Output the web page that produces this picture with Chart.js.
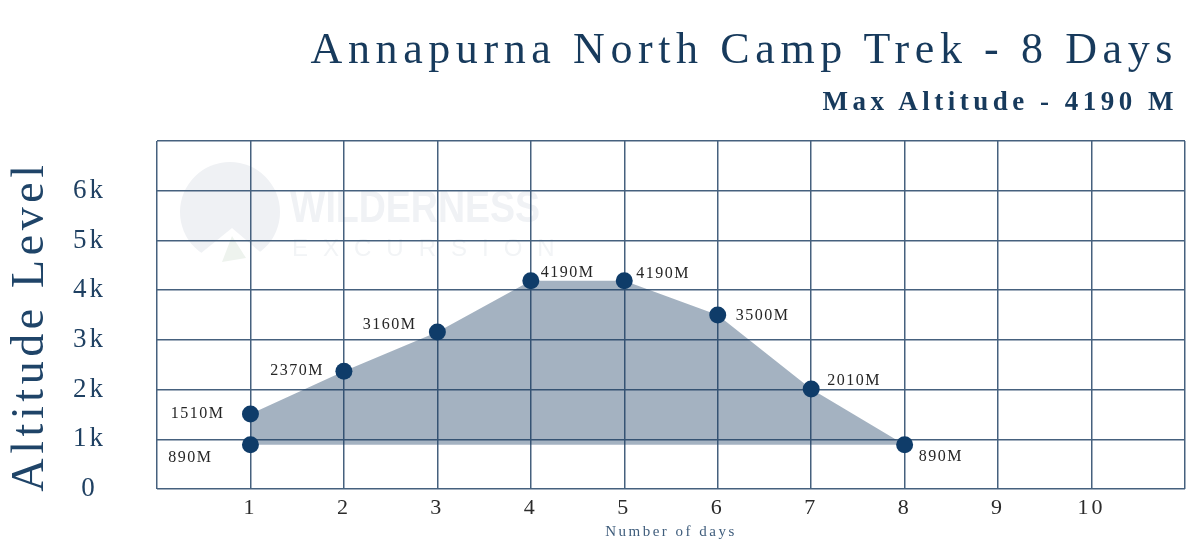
<!DOCTYPE html>
<html>
<head>
<meta charset="utf-8">
<script src="https://cdn.jsdelivr.net/npm/chart.js@4.4.1/dist/chart.umd.min.js"></script>
<style>
  html, body { margin: 0; padding: 0; background: #fff; }
  #wrap { position: relative; width: 1200px; height: 556px; }
  canvas { display: block; }
  #title, #subtitle {
    position: absolute; right: 22px; margin: 0; white-space: nowrap;
    font-family: "Liberation Serif", "DejaVu Serif", serif; color: #173a5c;
  }
  #title { top: 27px; font-size: 44px; letter-spacing: 5.6px; font-weight: normal; line-height: 1; }
  #subtitle { top: 88px; font-size: 27px; letter-spacing: 4.5px; font-weight: bold; line-height: 1; }
</style>
</head>
<body>
<div id="wrap">
  <h1 id="title">Annapurna North Camp Trek - 8 Days</h1>
  <h2 id="subtitle">Max Altitude - 4190 M</h2>
  <canvas id="trekChart" width="1200" height="556"></canvas>
</div>
<script>
// data
const days = [1, 1, 2, 3, 4, 5, 6, 7, 8];
const altitudes = [890, 1510, 2370, 3160, 4190, 4190, 3500, 2010, 890];
const altitudeLabels = altitudes.map(a => a + 'M');
const xTickLabels = ['', '1', '2', '3', '4', '5', '6', '7', '8', '9', '10', ''];
const yTickLabels = ['0', '1k', '2k', '3k', '4k', '5k', '6k', ''];

// where each label sits next to its dot (dx, dy in px)
const labelOffsets = [[-38, 13], [-26, 0], [-20, 0], [-21, -7], [10, -8], [12, -7], [18, 1], [16, -8], [14, 12]];

const serif = '"Liberation Serif", "DejaVu Serif", serif';

const decor = {
  id: 'decor',
  beforeDraw(chart) {
    const ctx = chart.ctx;
    // faint watermark
    ctx.save();
    ctx.fillStyle = '#eff1f4';
    ctx.beginPath();
    ctx.arc(230, 212, 50, 0, Math.PI * 2);
    ctx.fill();
    ctx.fillStyle = '#ffffff';
    ctx.beginPath();
    ctx.moveTo(190, 262); ctx.lineTo(232, 228); ctx.lineTo(272, 262);
    ctx.closePath();
    ctx.fill();
    ctx.fillStyle = '#eef3ee';
    ctx.beginPath();
    ctx.moveTo(222, 262); ctx.lineTo(232, 236); ctx.lineTo(246, 258);
    ctx.closePath();
    ctx.fill();
    ctx.fillStyle = '#f0f2f5';
    ctx.font = 'bold 44px "Liberation Sans", sans-serif';
    ctx.textBaseline = 'alphabetic';
    const w = ctx.measureText('WILDERNESS').width;
    ctx.save();
    ctx.translate(290, 222);
    ctx.scale(250 / w, 1);
    ctx.fillText('WILDERNESS', 0, 0);
    ctx.restore();
    ctx.font = '24px "Liberation Sans", sans-serif';
    ctx.letterSpacing = '15px';
    ctx.fillStyle = '#f2f4f6';
    ctx.fillText('EXCURSION', 292, 256);
    ctx.restore();
    ctx.letterSpacing = '3px';
  },
  beforeDatasetsDraw(chart) {
    chart.ctx.letterSpacing = '0px';
  },
  afterDraw(chart) {
    const ctx = chart.ctx;
    const meta = chart.getDatasetMeta(0);
    ctx.save();
    ctx.font = '16px ' + serif;
    ctx.fillStyle = '#262626';
    ctx.textBaseline = 'middle';
    ctx.letterSpacing = '1.5px';
    meta.data.forEach((pt, i) => {
      const [dx, dy] = labelOffsets[i];
      ctx.textAlign = dx < 0 ? 'right' : 'left';
      ctx.fillText(altitudeLabels[i], pt.x + dx, pt.y + dy);
    });

    // axis titles
    const area = chart.chartArea;
    ctx.fillStyle = '#3f5d7c';
    ctx.font = '15px ' + serif;
    ctx.letterSpacing = '2.5px';
    ctx.textAlign = 'center';
    ctx.fillText('Number of days', (area.left + area.right) / 2, 532);

    ctx.translate(31, 326);
    ctx.rotate(-Math.PI / 2);
    ctx.fillStyle = '#1f4468';
    ctx.font = '46px ' + serif;
    ctx.letterSpacing = '4.6px';
    ctx.fillText('Altitude Level', 0, 0);
    ctx.restore();
    ctx.letterSpacing = '0px';
  }
};

new Chart(document.getElementById('trekChart'), {
  type: 'line',
  data: {
    datasets: [{
      data: days.map((d, i) => ({ x: d, y: altitudes[i] })),
      borderWidth: 0,
      borderColor: 'rgba(0,0,0,0)',
      backgroundColor: 'rgba(28, 62, 100, 0.4)',
      fill: { value: 890 },
      pointRadius: 8.5,
      pointHoverRadius: 8.5,
      pointBackgroundColor: '#0f3c69',
      pointBorderWidth: 0
    }]
  },
  options: {
    responsive: false,
    animation: false,
    layout: { padding: { top: 141, right: 15, left: 0, bottom: 0 } },
    plugins: { legend: { display: false }, tooltip: { enabled: false } },
    scales: {
      x: {
        type: 'linear',
        min: 0,
        max: 11,
        afterFit(scale) { scale.height = 67; },
        border: { display: false },
        grid: { color: '#46617e', lineWidth: 1.5, drawTicks: false },
        ticks: {
          stepSize: 1,
          autoSkip: false,
          padding: 6,
          color: '#2b2b2b',
          font: { family: serif, size: 22 },
          callback: v => xTickLabels[v]
        }
      },
      y: {
        min: 0,
        max: 7000,
        afterFit(scale) {
          scale.width = 157;
          scale.paddingTop = 0;
          scale.paddingBottom = 0;
        },
        border: { display: false },
        grid: { color: '#46617e', lineWidth: 1.5, drawTicks: false },
        ticks: {
          stepSize: 1000,
          crossAlign: 'center',
          padding: 54,
          color: '#1f4062',
          font: { family: serif, size: 27 },
          callback: v => yTickLabels[v / 1000]
        }
      }
    }
  },
  plugins: [decor]
});
</script>
</body>
</html>
